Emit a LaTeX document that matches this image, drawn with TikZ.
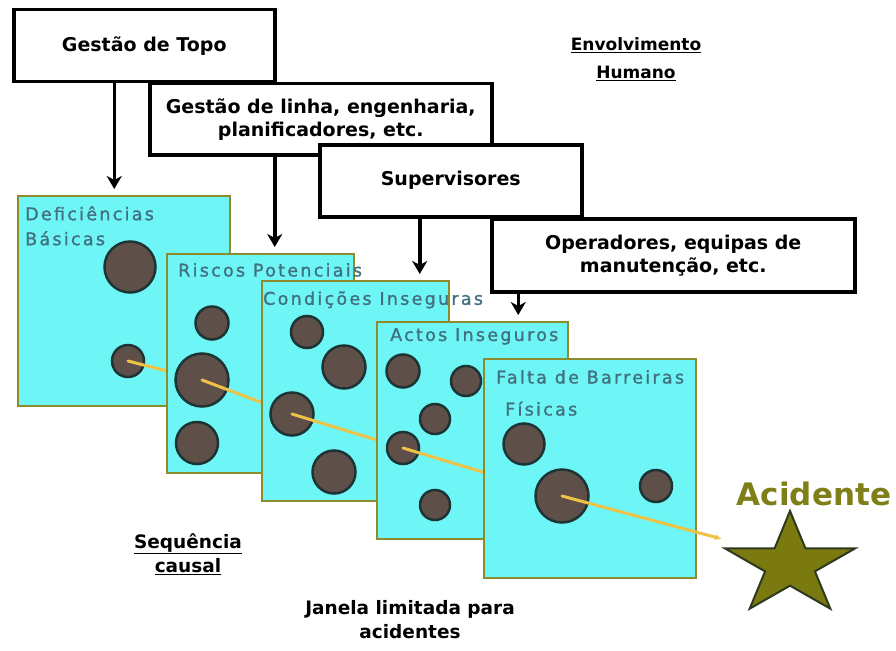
\documentclass[tikz,border=0pt]{standalone}
\usepackage{fontspec}
\setmainfont{DejaVu Sans}
\newfontfamily\panelfont[LetterSpace=13,FakeBold=1.3]{DejaVu Sans}
\usepackage{xcolor}
\usetikzlibrary{arrows.meta,positioning,shapes.geometric}
\definecolor{swissCyan}{HTML}{6EF6F6}
\definecolor{swissEdge}{HTML}{8E8A2E}
\definecolor{swissInk}{HTML}{42707E}
\definecolor{holeFill}{HTML}{5E5048}
\definecolor{holeEdge}{HTML}{1E3434}
\definecolor{trailGold}{HTML}{EEC247}
\definecolor{starOlive}{HTML}{7A7A10}
\definecolor{starEdge}{HTML}{2E3A1E}
\definecolor{accText}{HTML}{7F7F18}
\tikzset{
  level/.style={
    draw=black,
    line width=3.5pt,
    fill=white,
    align=center,
    anchor=north west,
    inner sep=0pt,
    font=\fontsize{19}{23}\selectfont\bfseries
  },
  slice/.style={
    draw=swissEdge,
    line width=2pt,
    fill=swissCyan,
    anchor=north west,
    inner sep=0pt
  },
  slicelabel/.style={
    text=swissInk,
    align=left,
    inner sep=0pt,
    font=\panelfont\fontsize{17.5}{25}\selectfont
  },
  hole/.style={
    circle,
    draw=holeEdge,
    line width=2.5pt,
    fill=holeFill,
    inner sep=0pt
  },
  note/.style={align=center, font=\fontsize{18.5}{24}\selectfont\bfseries},
  drop/.style={-{Stealth[length=13pt,width=15pt,inset=4pt]}, line width=3.5pt, draw=black, shorten >=6pt},
  trail/.style={draw=trailGold, line width=3pt, line cap=round}
}
\begin{document}
\begin{tikzpicture}[x=1pt,y=-1pt]
  \useasboundingbox (0,0) rectangle (896,650);

  % management levels
  \node[level, minimum width=261, minimum height=72] (topo) at (12,8) {Gestão de Topo};
  \node[level, minimum width=342, minimum height=71] (linha) at (148,82) {Gestão de linha, engenharia,\\planificadores, etc.};
  \node[level, minimum width=262, minimum height=72] (superv) at (318,143) {Supervisores};
  \node[level, minimum width=363, minimum height=73] (oper) at (490,217) {Operadores, equipas de\\manutenção, etc.};

  \node[note, font=\fontsize{17}{28}\selectfont\bfseries] (envolv) at (636,59) {\underline{Envolvimento}\\\underline{Humano}};

  % where the accident path crosses each slice
  \coordinate (k1) at (128,361);
  \coordinate (k2) at (202,380);
  \coordinate (k3) at (292,414);
  \coordinate (k4) at (403,448);
  \coordinate (k5) at (562,496);
  \coordinate (hit) at (722,539);

  % slices with holes
  \node[slice, minimum width=212, minimum height=210] (defic) at (17,195) {};
  \node[slicelabel, below right=11pt and 8pt of defic.north west] {Deficiências\\Básicas};
  \node[hole, minimum size=51] (d1) at (130,267) {};
  \node[hole, minimum size=32] (d2) at (k1) {};
  \draw[trail] (d2.center) -- (k2);

  \node[slice, minimum width=187, minimum height=219] (riscos) at (166,253) {};
  \node[slicelabel, below right=10pt and 12pt of riscos.north west] {Riscos Potenciais};
  \foreach \hx/\hy/\hd/\hn in {212/323/33/r1, 197/443/42/r3}
    \node[hole, minimum size=\hd] (\hn) at (\hx,\hy) {};
  \node[hole, minimum size=53] (r2) at (k2) {};
  \draw[trail] (r2.center) -- (k3);

  \node[slice, minimum width=187, minimum height=220] (cond) at (261,280) {};
  \node[slicelabel, below right=11pt and 2pt of cond.north west] {Condições Inseguras};
  \foreach \hx/\hy/\hd/\hn in {307/332/32/c1, 344/367/43/c2, 334/472/43/c4}
    \node[hole, minimum size=\hd] (\hn) at (\hx,\hy) {};
  \node[hole, minimum size=43] (c3) at (k3) {};
  \draw[trail] (c3.center) -- (k4);

  \node[slice, minimum width=191, minimum height=217] (actos) at (376,321) {};
  \node[slicelabel, below right=7pt and 14pt of actos.north west] {Actos Inseguros};
  \foreach \hx/\hy/\hd/\hn in {403/371/33/a1, 466/381/30/a2, 435/419/30/a3, 435/505/30/a5}
    \node[hole, minimum size=\hd] (\hn) at (\hx,\hy) {};
  \node[hole, minimum size=32] (a4) at (k4) {};
  \draw[trail] (a4.center) -- (k5);

  \node[slice, minimum width=212, minimum height=219] (falta) at (483,358) {};
  \node[slicelabel, below right=12pt and 13pt of falta.north west] {Falta de Barreiras\\[7pt]\hspace{9pt}Físicas};
  \foreach \hx/\hy/\hd/\hn in {524/444/41/f1, 656/486/32/f3}
    \node[hole, minimum size=\hd] (\hn) at (\hx,\hy) {};
  \node[hole, minimum size=53] (f2) at (k5) {};
  \draw[trail, -{Latex[length=7pt,width=6pt]}] (f2.center) -- (hit);

  % accident
  \node[star, star points=5, star point ratio=2.618, minimum size=108, xscale=1.27,
    draw=starEdge, line width=2pt, fill=starOlive, inner sep=0pt] (acid) at (790,565) {};
  \node[font=\fontsize{31}{32}\selectfont\bfseries, text=accText] (acidLabel) at (814,494) {Acidente};

  \node[note] (sequencia) at (188,554) {\underline{Sequência}\\\underline{causal}};
  \node[note] (janela) at (410,620) {Janela limitada para\\acidentes};

  % arrows from levels down to slices
  \draw[drop] ([xshift=-30pt]topo.south) -- ([xshift=-30pt]topo.south |- defic.north);
  \draw[drop] ([xshift=-46pt]linha.south) -- ([xshift=-46pt]linha.south |- riscos.north);
  \draw[drop] ([xshift=-31pt]superv.south) -- ([xshift=-31pt]superv.south |- cond.north);
  \draw[drop] ([xshift=-155pt]oper.south) -- ([xshift=-155pt]oper.south |- actos.north);
\end{tikzpicture}
\end{document}
